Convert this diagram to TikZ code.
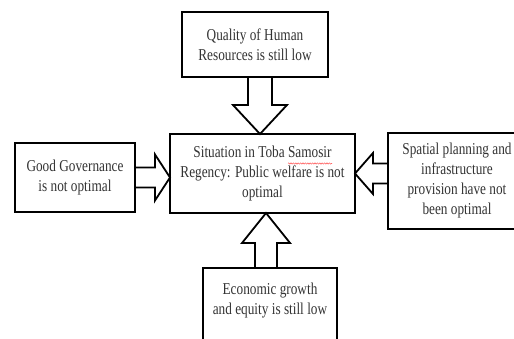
\documentclass[tikz,border=0pt]{standalone}
\usepackage{fontspec}
\setmainfont[FakeStretch=0.8]{Liberation Serif}
\usetikzlibrary{calc, positioning, backgrounds, decorations.pathmorphing}
\tikzset{
    issue_node/.style={rectangle, draw=black, line width=2.4pt, outer sep=0pt, inner sep=2pt, text=black!80, text centered, align=center, font=\fontsize{16.6}{20}\selectfont},
    hollow_arrow/.style={draw=black, line width=1.8pt, fill=white, line join=miter},
    spell_line/.style={red!60, line width=0.6pt, decorate, decoration={zigzag, amplitude=0.6pt, segment length=2.4pt}},
}

\begin{document}
\begin{tikzpicture}[x=1pt, y=1pt]
      \useasboundingbox (0,0) rectangle (514,-339);
      \clip (0,0) rectangle (514,-339);
      %%%%%%%%%%%%%
      % Situation %
      %%%%%%%%%%%%%
      \node (situation) [issue_node, minimum width=185pt, minimum height=79pt] at (262.5,-173.5)
          {Situation in Toba Samosir\\Regency: Public welfare is not\\optimal};
      \draw [spell_line] ($(situation.north)+(25.5,-29.5)$) -- ++(44,0);
      %%%%%%%%%%
      % Causes %
      %%%%%%%%%%
      \node (quality) [issue_node, minimum width=146pt, minimum height=65pt, above=57pt of situation, xshift=-7.5pt]
          {Quality of Human\\Resources is still low};
      \node (governance) [issue_node, minimum width=120pt, minimum height=69pt, left=35pt of situation, yshift=-4pt]
          {Good Governance\\is not optimal};
      \node (spatial) [issue_node, minimum width=138pt, minimum height=96pt, right=33pt of situation, yshift=-7.5pt]
          {Spatial planning and\\infrastructure\\provision have not\\been optimal};
      \node (economic) [issue_node, minimum width=134pt, minimum height=80pt, text depth=18pt, below=55pt of situation, xshift=7.5pt]
          {Economic growth\\and equity is still low};

      \begin{scope}[on background layer]
      \draw [hollow_arrow] ($(quality.south)+(-7,0)$) -- ++(0,-28) -- ++(-15,0)
          -- ($(situation.north)+(-2.5,0)$) -- ++(27,29) -- ++(-15,0) -- ++(0,28) -- cycle;
      \draw [hollow_arrow] ($(governance.east)+(0,10)$) -- ++(20,0) -- ++(0,13)
          -- (situation.west |- governance.east) -- ++(-15,-23) -- ++(0,13) -- ++(-20,0) -- cycle;
      \draw [hollow_arrow] (situation.east) -- ++(18,20.5) -- ++(0,-10.5)
          -- ($(spatial.west |- situation.east)+(0,10)$) -- ++(0,-20) -- ++(-15,0) -- ++(0,-10.5) -- cycle;
      \draw [hollow_arrow] ($(economic.north)+(-15,0)$) -- ++(0,25) -- ++(-13,0)
          -- ($(economic.north |- situation.south)+(-4,0)$) -- ++(24,-30) -- ++(-13,0) -- ++(0,-25) -- cycle;
      \end{scope}
    \end{tikzpicture}
\end{document}
